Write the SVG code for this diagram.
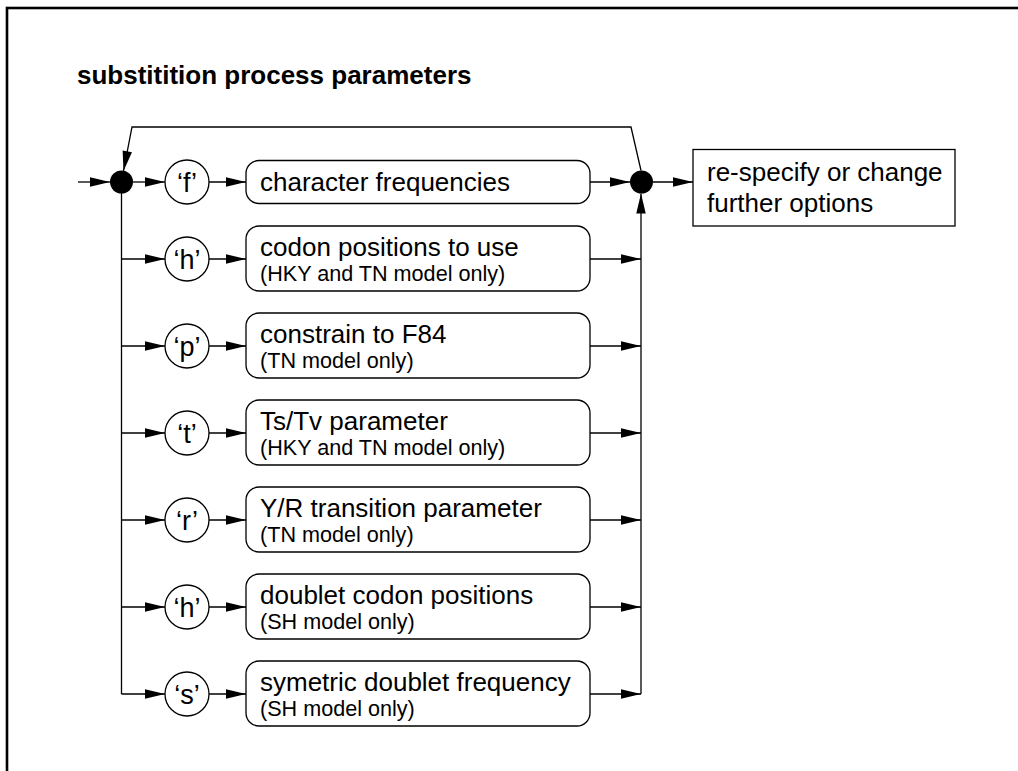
<svg xmlns="http://www.w3.org/2000/svg" width="1018" height="771" viewBox="0 0 1018 771">
<style>
text{font-family:"Liberation Sans",Arial,Helvetica,sans-serif;fill:#000}
.title{font-size:26px;font-weight:bold}
.big{font-size:26px}
.small{font-size:21.6px}
.lbl{font-size:27px;text-anchor:middle}
.box{fill:#fff;stroke:#000;stroke-width:1.3}
.circ{fill:#fff;stroke:#000;stroke-width:1.3}
.dot{fill:#000}
.con{fill:none;stroke:#000;stroke-width:1.3}
.arr{marker-end:url(#ah)}
</style>
<defs>
<marker id="ah" markerUnits="userSpaceOnUse" markerWidth="20" markerHeight="10" refX="20" refY="4.75" orient="auto" overflow="visible">
<path d="M0,0 L20,4.75 L0,9.5 z" fill="#000"/>
</marker>
</defs>
<rect x="7" y="8" width="1030" height="800" fill="none" stroke="#000" stroke-width="2.6"/>
<text class="title" x="77" y="84">substitition process parameters</text>

<g id="connectors">
<path class="con arr" d="M78,182 H110"/>
<path class="con arr" d="M133,182 H165"/>
<path class="con arr" d="M209,182 H246"/>
<path class="con arr" d="M590,182 H630"/>
<path class="con arr" d="M653,182 H693"/>
<path class="con arr" d="M641,170.5 L631,127 H132 L123.5,171"/>
<path class="con" d="M121.5,193 V694"/>
<path class="con arr" d="M121.5,259 H165"/>
<path class="con arr" d="M121.5,346 H165"/>
<path class="con arr" d="M121.5,433 H165"/>
<path class="con arr" d="M121.5,520 H165"/>
<path class="con arr" d="M121.5,607 H165"/>
<path class="con arr" d="M121.5,694 H165"/>
<path class="con arr" d="M209,259 H246"/>
<path class="con arr" d="M209,346 H246"/>
<path class="con arr" d="M209,433 H246"/>
<path class="con arr" d="M209,520 H246"/>
<path class="con arr" d="M209,607 H246"/>
<path class="con arr" d="M209,694 H246"/>
<path class="con arr" d="M590,259 H641"/>
<path class="con arr" d="M590,346 H641"/>
<path class="con arr" d="M590,433 H641"/>
<path class="con arr" d="M590,520 H641"/>
<path class="con arr" d="M590,607 H641"/>
<path class="con arr" d="M590,694 H641"/>
<path class="con arr" d="M641,694 V193.5"/>
</g>

<g id="start-junction"><circle class="dot" cx="121.5" cy="182" r="11.5"/></g>
<g id="end-junction"><circle class="dot" cx="641.5" cy="182" r="11.5"/></g>

<g id="key-f"><circle class="circ" cx="187" cy="182" r="22"/><text class="lbl" x="187" y="192">‘f’</text></g>
<g id="key-h1"><circle class="circ" cx="187" cy="259" r="22"/><text class="lbl" x="187" y="269">‘h’</text></g>
<g id="key-p"><circle class="circ" cx="187" cy="346" r="22"/><text class="lbl" x="187" y="356">‘p’</text></g>
<g id="key-t"><circle class="circ" cx="187" cy="433" r="22"/><text class="lbl" x="187" y="443">‘t’</text></g>
<g id="key-r"><circle class="circ" cx="187" cy="520" r="22"/><text class="lbl" x="187" y="530">‘r’</text></g>
<g id="key-h2"><circle class="circ" cx="187" cy="607" r="22"/><text class="lbl" x="187" y="617">‘h’</text></g>
<g id="key-s"><circle class="circ" cx="187" cy="694" r="22"/><text class="lbl" x="187" y="704">‘s’</text></g>

<g id="box-freq"><rect class="box" x="246" y="160.5" width="344" height="43" rx="13"/><text class="big" x="260" y="191">character frequencies</text></g>
<g id="box-codon"><rect class="box" x="246" y="226" width="344" height="65" rx="13"/><text class="big" x="260" y="256">codon positions to use</text><text class="small" x="260" y="281">(HKY and TN model only)</text></g>
<g id="box-f84"><rect class="box" x="246" y="313" width="344" height="65" rx="13"/><text class="big" x="260" y="343">constrain to F84</text><text class="small" x="260" y="368">(TN model only)</text></g>
<g id="box-tstv"><rect class="box" x="246" y="400" width="344" height="65" rx="13"/><text class="big" x="260" y="430">Ts/Tv parameter</text><text class="small" x="260" y="455">(HKY and TN model only)</text></g>
<g id="box-yr"><rect class="box" x="246" y="487" width="344" height="65" rx="13"/><text class="big" x="260" y="517">Y/R transition parameter</text><text class="small" x="260" y="542">(TN model only)</text></g>
<g id="box-doublet"><rect class="box" x="246" y="574" width="344" height="65" rx="13"/><text class="big" x="260" y="604">doublet codon positions</text><text class="small" x="260" y="629">(SH model only)</text></g>
<g id="box-sym"><rect class="box" x="246" y="661" width="344" height="65" rx="13"/><text class="big" x="260" y="691">symetric doublet frequency</text><text class="small" x="260" y="716">(SH model only)</text></g>

<g id="box-result"><rect class="box" x="693" y="149.5" width="262" height="76.5"/><text class="big" x="707" y="181">re-specify or change</text><text class="big" x="707" y="212">further options</text></g>
</svg>
